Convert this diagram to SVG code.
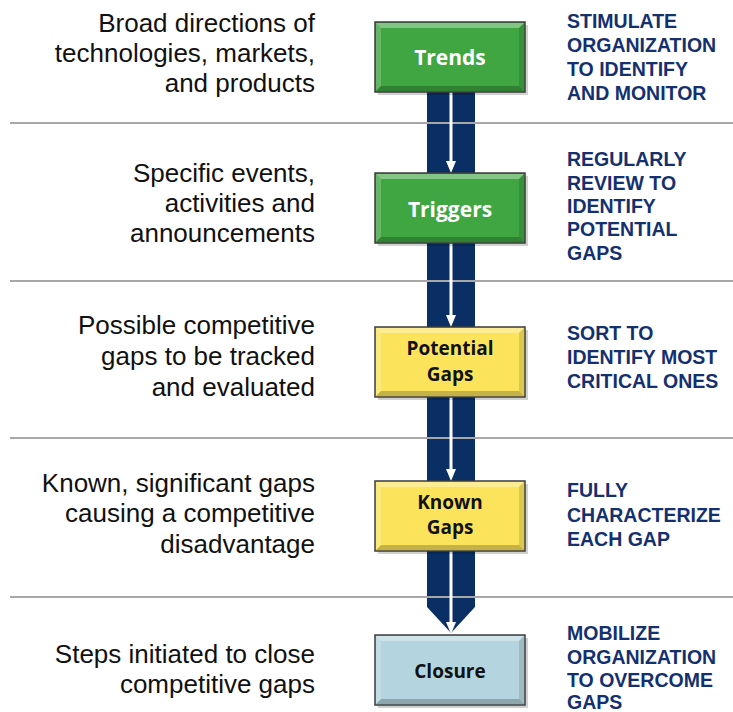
<svg xmlns="http://www.w3.org/2000/svg" xmlns:xlink="http://www.w3.org/1999/xlink" width="733" height="712" viewBox="0 0 733 712">
<defs>
<style>
.sep{stroke:#a8a8a8;stroke-width:2}
.left{font-family:"Liberation Sans",Arial,sans-serif;font-size:26px;fill:#111;text-anchor:end}
.right{font-family:"Liberation Sans",Arial,sans-serif;font-size:19.5px;font-weight:bold;fill:#14306e}
.lbl{font-family:"Open Sans","Liberation Sans",sans-serif;font-weight:700;text-anchor:middle}
.box{stroke:#3c3c3c;stroke-width:1.5}
.green{fill:#3fa642}
.yellow{fill:#fbe45c}
.blue{fill:#b4d5df}
.shadow{fill:#000;opacity:0.18}
.flow{stroke:#fff;stroke-width:3;fill:none}
</style>
<marker id="ah" viewBox="0 0 12 10" refX="6" refY="5" markerWidth="12" markerHeight="10" markerUnits="userSpaceOnUse" orient="auto">
<path d="M0,0 L12,5 L0,10 Z" fill="#fff"/>
</marker>
<g id="bevel">
<polygon points="1,1 149,1 144,6 6,6" fill="#fff" opacity="0.35"/>
<polygon points="1,1 6,6 6,64 1,69" fill="#fff" opacity="0.2"/>
<polygon points="149,1 149,69 144,64 144,6" fill="#000" opacity="0.12"/>
<polygon points="1,69 6,64 144,64 149,69" fill="#000" opacity="0.22"/>
</g>
</defs>
<rect width="733" height="712" fill="#fff"/>

<g id="column">
<path d="M427,60 L475,60 L475,607 L451,633 L427,607 Z" fill="#0a2f64"/>
</g>

<g id="separators">
<line class="sep" x1="10" y1="123" x2="733" y2="123"/>
<line class="sep" x1="10" y1="281" x2="733" y2="281"/>
<line class="sep" x1="10" y1="438" x2="733" y2="438"/>
<line class="sep" x1="10" y1="597" x2="733" y2="597"/>
</g>

<g id="connectors">
<line class="flow" x1="451" y1="92" x2="451" y2="167" marker-end="url(#ah)"/>
<line class="flow" x1="451" y1="243" x2="451" y2="321" marker-end="url(#ah)"/>
<line class="flow" x1="451" y1="397" x2="451" y2="475" marker-end="url(#ah)"/>
<line class="flow" x1="451" y1="551" x2="451" y2="628" marker-end="url(#ah)"/>
</g>

<g id="trends" transform="translate(375,22)">
<rect class="shadow" x="3" y="3" width="150" height="70"/>
<rect class="box green" width="150" height="70"/>
<use xlink:href="#bevel"/>
<text class="lbl" x="75" y="43" font-size="21" fill="#fff">Trends</text>
</g>

<g id="triggers" transform="translate(375,173)">
<rect class="shadow" x="3" y="3" width="150" height="70"/>
<rect class="box green" width="150" height="70"/>
<use xlink:href="#bevel"/>
<text class="lbl" x="75" y="44" font-size="21" fill="#fff">Triggers</text>
</g>

<g id="potential-gaps" transform="translate(375,327)">
<rect class="shadow" x="3" y="3" width="150" height="70"/>
<rect class="box yellow" width="150" height="70"/>
<use xlink:href="#bevel"/>
<text class="lbl" x="75" y="28" font-size="19" fill="#111">Potential</text>
<text class="lbl" x="75" y="54" font-size="19" fill="#111">Gaps</text>
</g>

<g id="known-gaps" transform="translate(375,481)">
<rect class="shadow" x="3" y="3" width="150" height="70"/>
<rect class="box yellow" width="150" height="70"/>
<use xlink:href="#bevel"/>
<text class="lbl" x="75" y="28" font-size="19" fill="#111">Known</text>
<text class="lbl" x="75" y="53" font-size="19" fill="#111">Gaps</text>
</g>

<g id="closure" transform="translate(375,635)">
<rect class="shadow" x="3" y="3" width="150" height="70"/>
<rect class="box blue" width="150" height="70"/>
<use xlink:href="#bevel"/>
<text class="lbl" x="75" y="43" font-size="19" fill="#111">Closure</text>
</g>

<g id="left-labels">
<text class="left" x="315" y="32">Broad directions of</text>
<text class="left" x="315" y="62">technologies, markets,</text>
<text class="left" x="315" y="92">and products</text>
<text class="left" x="315" y="181.5">Specific events,</text>
<text class="left" x="315" y="211.5">activities and</text>
<text class="left" x="315" y="241.5">announcements</text>
<text class="left" x="315" y="334">Possible competitive</text>
<text class="left" x="315" y="365">gaps to be tracked</text>
<text class="left" x="315" y="396">and evaluated</text>
<text class="left" x="315" y="492">Known, significant gaps</text>
<text class="left" x="315" y="522">causing a competitive</text>
<text class="left" x="315" y="553">disadvantage</text>
<text class="left" x="315" y="662.5">Steps initiated to close</text>
<text class="left" x="315" y="692.5">competitive gaps</text>
</g>

<g id="right-labels">
<text class="right" x="567" y="28">STIMULATE</text>
<text class="right" x="567" y="52">ORGANIZATION</text>
<text class="right" x="567" y="76">TO IDENTIFY</text>
<text class="right" x="567" y="99.5">AND MONITOR</text>
<text class="right" x="567" y="166">REGULARLY</text>
<text class="right" x="567" y="189.5">REVIEW TO</text>
<text class="right" x="567" y="213">IDENTIFY</text>
<text class="right" x="567" y="236">POTENTIAL</text>
<text class="right" x="567" y="259.5">GAPS</text>
<text class="right" x="567" y="340">SORT TO</text>
<text class="right" x="567" y="364">IDENTIFY MOST</text>
<text class="right" x="567" y="388">CRITICAL ONES</text>
<text class="right" x="567" y="497">FULLY</text>
<text class="right" x="567" y="521.5">CHARACTERIZE</text>
<text class="right" x="567" y="546">EACH GAP</text>
<text class="right" x="567" y="640">MOBILIZE</text>
<text class="right" x="567" y="663.5">ORGANIZATION</text>
<text class="right" x="567" y="687">TO OVERCOME</text>
<text class="right" x="567" y="709">GAPS</text>
</g>
</svg>
